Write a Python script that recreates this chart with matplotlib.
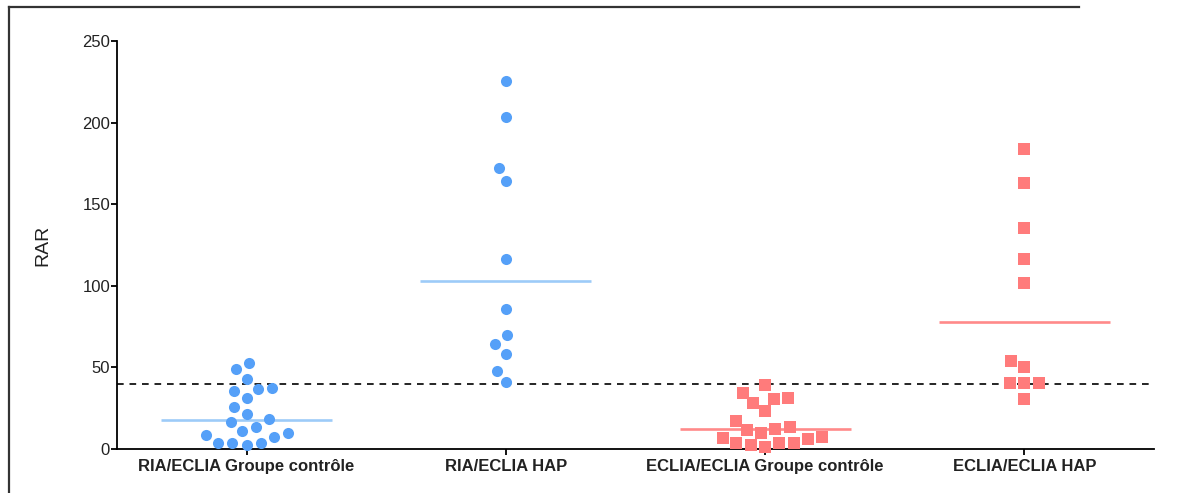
import numpy as np
import matplotlib.pyplot as plt
from matplotlib.lines import Line2D

plt.rcParams['font.family'] = ['Liberation Sans', 'DejaVu Sans']

categories = ['RIA/ECLIA Groupe contrôle', 'RIA/ECLIA HAP',
              'ECLIA/ECLIA Groupe contrôle', 'ECLIA/ECLIA HAP']

ria_ctrl = [52.9, 49.0, 42.7, 36.6, 35.7, 37.2, 31.1, 25.5, 21.2, 16.7,
            18.2, 13.3, 10.0, 7.6, 3.9, 2.5, 3.9, 3.9, 8.6, 11.0]
ria_hap = [225.7, 203.6, 172.2, 164.4, 116.6, 85.6, 69.7, 64.3, 58.2, 48.0, 41.1]
eclia_ctrl = [39.4, 30.6, 34.5, 28.0, 31.4, 23.5, 17.2, 12.3, 11.6, 13.3,
              10.0, 6.5, 3.5, 3.5, 1.4, 2.5, 3.5, 5.9, 7.2]
eclia_hap = [183.6, 162.8, 135.4, 116.2, 101.5, 53.7, 50.4, 40.6, 40.6, 40.6, 30.4]
medians = [17.8, 102.7, 12.5, 78.0]
threshold = 40

groups = [ria_ctrl, ria_hap, eclia_ctrl, eclia_hap]
markers = ['o', 'o', 's', 's']
dot_colors = ['#55A0F8', '#55A0F8', '#FF7B7B', '#FF7B7B']
line_colors = ['#9DCBF8', '#9DCBF8', '#FF8A8A', '#FF8A8A']

fig = plt.figure(figsize=(11.89, 4.93), dpi=100)
ax = fig.add_axes([117 / 1189, 44 / 493, 1037 / 1189, 408 / 493])
ax.set_xlim(-0.5, 3.5)
ax.set_ylim(0, 250)


def swarm(pos, values, d):
    # simple beeswarm in display pixels
    trans = ax.transData
    pts = trans.transform(np.column_stack([np.full(len(values), pos), values]))
    order = np.argsort(pts[:, 1])
    placed = []
    xs = np.zeros(len(values))
    for i in order:
        y = pts[i, 1]
        cands = [0.0]
        near = [(px, py) for px, py in placed if abs(py - y) < d]
        for px, py in near:
            dx = np.sqrt(d ** 2 - (py - y) ** 2)
            cands += [px + dx, px - dx]
        cands.sort(key=lambda c: (abs(c), c))
        for c in cands:
            if all((c - px) ** 2 + (y - py) ** 2 >= d ** 2 - 1e-6 for px, py in near):
                xs[i] = c
                placed.append((c, y))
                break
    pts[:, 0] += xs
    return trans.inverted().transform(pts)[:, 0]


for i, vals in enumerate(groups):
    x = swarm(i, vals, 14.5)
    ax.scatter(x, vals, marker=markers[i], s=8 ** 2, color=dot_colors[i],
               linewidths=0, zorder=3, clip_on=False)
    ax.plot([i - 0.33, i + 0.33], [medians[i]] * 2, color=line_colors[i],
            lw=1.9, zorder=2, solid_capstyle='butt')

ax.axhline(threshold, color='black', lw=1.2, ls=(0, (4, 3.5)), zorder=1)

ax.spines['top'].set_visible(False)
ax.spines['right'].set_visible(False)
for s in ['left', 'bottom']:
    ax.spines[s].set_linewidth(1.3)
ax.set_yticks([0, 50, 100, 150, 200, 250])
ax.set_xticks(range(4))
ax.set_xticklabels(categories, fontsize=12, fontweight='bold', color='#222222')
ax.tick_params(axis='y', length=4, width=1.3, labelsize=12, pad=1,
               labelcolor='#222222')
ax.tick_params(axis='x', length=4, width=1.3, pad=3)
ax.set_ylabel('RAR', fontsize=14, color='#222222')
ax.yaxis.set_label_coords(-0.063, 0.5)

# frame lines of the original figure
fig.add_artist(Line2D([9 / 1189, 9 / 1189], [0, 486 / 493], color='#333333', lw=1.6))
fig.add_artist(Line2D([9 / 1189, 1079 / 1189], [486 / 493, 486 / 493],
                      color='#333333', lw=1.6))

fig.savefig('out.png', dpi=100)
